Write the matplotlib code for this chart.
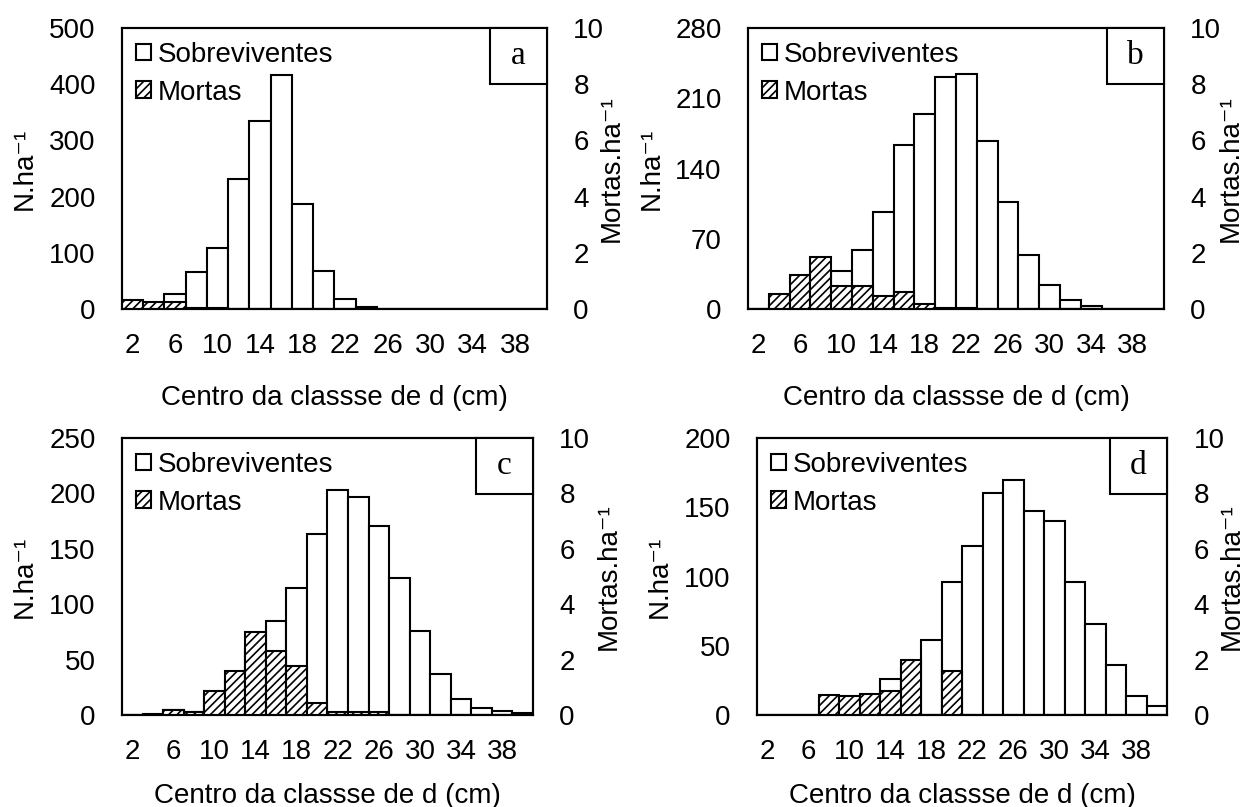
import matplotlib
matplotlib.use("Agg")
import matplotlib.pyplot as plt
from matplotlib.patches import Rectangle

plt.rcParams["font.family"] = ["Liberation Sans", "DejaVu Sans"]
plt.rcParams["hatch.linewidth"] = 1.2

# centros de classe de diametro (cm)
classes = [2, 4, 6, 8, 10, 12, 14, 16, 18, 20, 22, 24, 26, 28, 30, 32, 34, 36, 38, 40]
rotulos_x = ["2", "6", "10", "14", "18", "22", "26", "30", "34", "38"]

# sobreviventes (N.ha-1), eixo da esquerda
sobrev_a = [8, 6, 26, 65, 108, 231, 335, 416, 186, 67, 17, 3, 0.5, 0, 0, 0, 0, 0, 0, 0]
sobrev_b = [0, 5, 15, 30, 38, 59, 97, 163, 194, 231, 234, 167, 107, 54, 24, 9, 2.5, 0, 0, 0]
sobrev_c = [0, 1.2, 4.5, 3, 15, 30, 60, 85, 115, 163, 203, 197, 171, 124, 76, 37, 14, 6, 3.3, 1.8]
sobrev_d = [0, 0, 0, 10, 10, 10, 26, 35, 54, 96, 122, 160, 170, 147, 140, 96, 66, 36, 13.5, 6.3]

# mortas (Mortas.ha-1), eixo da direita
mortas_a = [0.33, 0.26, 0.26, 0.05, 0.05, 0, 0, 0, 0, 0, 0, 0, 0, 0, 0, 0, 0, 0, 0, 0]
mortas_b = [0, 0.52, 1.21, 1.85, 0.83, 0.83, 0.47, 0.6, 0.17, 0.05, 0.05, 0, 0, 0, 0, 0, 0, 0, 0, 0]
mortas_c = [0, 0, 0.19, 0.12, 0.85, 1.58, 3.0, 2.32, 1.78, 0.42, 0.1, 0.12, 0.12, 0, 0, 0, 0, 0, 0, 0.05]
mortas_d = [0, 0, 0, 0.72, 0.7, 0.77, 0.87, 2.0, 0, 1.58, 0, 0, 0, 0, 0, 0, 0, 0, 0, 0]

paineis = [
    # letra, sobrev, mortas, ymax, passo, [l, b, w, h], x label esq, x label dir, topo xlabel
    ("a", sobrev_a, mortas_a, 500, 100, [0.0978, 0.6171, 0.3408, 0.3482], 38, 599, 76),
    ("b", sobrev_b, mortas_b, 280, 70, [0.5998, 0.6171, 0.3336, 0.3482], 665, 1218, 76),
    ("c", sobrev_c, mortas_c, 250, 50, [0.0978, 0.1140, 0.3296, 0.3432], 38, 596, 68),
    ("d", sobrev_d, mortas_d, 200, 50, [0.6071, 0.1140, 0.3288, 0.3432], 673, 1219, 68),
]

W, H = 1247, 807
fig = plt.figure(figsize=(W / 100, H / 100), dpi=100)
FS = 20
LW = 1.5

for letra, sobrev, mortas, ymax, passo, pos, x_esq, x_dir, y_xl in paineis:
    ax = fig.add_axes(pos)
    ax2 = ax.twinx()
    x = list(range(len(classes)))

    b1 = ax.bar(x, sobrev, width=1.0, color="white", edgecolor="black",
                linewidth=LW, label="Sobreviventes")
    b2 = ax2.bar(x, mortas, width=1.0, color="white", edgecolor="black",
                 linewidth=LW, hatch="////", label="Mortas")

    ax.set_xlim(-0.5, len(classes) - 0.5)
    ax.set_ylim(0, ymax)
    ax2.set_ylim(0, 10)
    ax.set_yticks(list(range(0, ymax + 1, passo)))
    ax2.set_yticks([0, 2, 4, 6, 8, 10])
    ax.set_xticks(x[::2])
    ax.set_xticklabels(rotulos_x)

    ax.tick_params(axis="both", length=0, labelsize=FS)
    ax.tick_params(axis="y", pad=19)
    ax.tick_params(axis="x", pad=17)
    ax2.tick_params(axis="y", length=0, labelsize=FS, pad=19)
    for a in (ax, ax2):
        for s in a.spines.values():
            s.set_linewidth(LW)

    axw = pos[2] * W
    axh = pos[3] * H
    axl = pos[0] * W
    ax.set_ylabel("N.ha⁻¹", fontsize=FS)
    ax2.set_ylabel("Mortas.ha⁻¹", fontsize=FS)
    ax.yaxis.set_label_coords((x_esq - axl) / axw, 0.5)
    ax2.yaxis.set_label_coords((x_dir - axl) / axw, 0.5)
    ax.set_xlabel("Centro da classse de d (cm)", fontsize=FS)
    ax.xaxis.set_label_coords(0.5, -y_xl / axh)

    ax2.legend([b1, b2], ["Sobreviventes", "Mortas"], loc="upper left",
               bbox_to_anchor=(0.0, 1.0), frameon=False, fontsize=FS,
               handlelength=0.54, handleheight=0.54, handletextpad=0.25,
               labelspacing=0.42, borderpad=0.3, borderaxespad=0.2)

    bw, bh = 57 / axw, 56 / axh
    ax2.add_patch(Rectangle((1 - bw, 1 - bh), bw, bh, transform=ax2.transAxes,
                            facecolor="white", edgecolor="black", linewidth=LW,
                            zorder=5, clip_on=False))
    ax2.text(1 - bw / 2, 1 - bh / 2, letra, transform=ax2.transAxes,
             ha="center", va="center", fontsize=24, family="Liberation Serif",
             zorder=6)

fig.savefig("out.png", dpi=100)
